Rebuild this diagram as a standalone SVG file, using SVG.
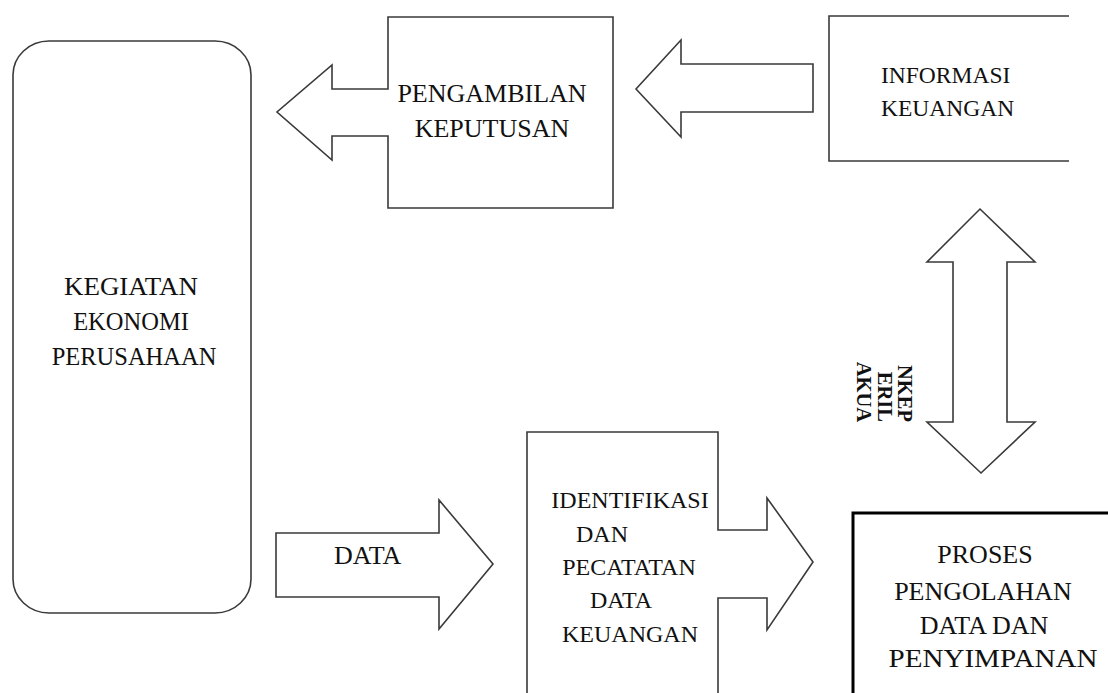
<svg xmlns="http://www.w3.org/2000/svg" width="1108" height="693" viewBox="0 0 1108 693">
<style>
.ln{fill:#fff;stroke:#3a3a3a;stroke-width:1.6;stroke-linejoin:miter}
.open{fill:none;stroke:#3a3a3a;stroke-width:1.6}
.thick{fill:none;stroke:#000;stroke-width:3}
text{font-family:"Liberation Serif","Times New Roman",serif;fill:#111}
.c{text-anchor:middle}
.rot{font-weight:bold;font-size:20.5px;text-anchor:end}
</style>
<rect width="1108" height="693" fill="#fff"/>
<g id="connectors">
<polygon id="arrow-info-to-keputusan" class="ln" points="813,64 681,64 681,40 636,89 681,137 681,112 813,112"/>
<polygon id="arrow-data" class="ln" points="276,533 439,533 439,500 493,564 439,629 439,597 276,597"/>
<polygon id="arrow-double" class="ln" points="980,209 1035,262 1007,262 1007,422 1035,422 981,473 927,422 953,422 953,262 927,262"/>
</g>
<g id="node-kegiatan">
<rect class="ln" x="13" y="41" width="238" height="572" rx="36" ry="34"/>
<text class="c" x="131" y="295" font-size="24.5" textLength="134" lengthAdjust="spacingAndGlyphs">KEGIATAN</text>
<text class="c" x="131" y="330" font-size="24.5">EKONOMI</text>
<text class="c" x="134" y="365" font-size="24.5">PERUSAHAAN</text>
</g>
<g id="node-pengambilan">
<path class="ln" d="M388,17 H613 V208 H388 V136 H332 V160 L277,112 L332,65 V89 H388 Z"/>
<text class="c" x="492" y="102" font-size="26">PENGAMBILAN</text>
<text class="c" x="492" y="137" font-size="26">KEPUTUSAN</text>
</g>
<g id="node-informasi">
<path class="open" d="M1069,16 H829 V161 H1069"/>
<text x="881" y="83" font-size="23.5">INFORMASI</text>
<text x="881" y="116" font-size="23.5">KEUANGAN</text>
</g>
<g id="node-identifikasi">
<path class="ln" d="M527,700 V432 H718 V530 H767 V498 L813,562 L767,630 V598 H718 V700"/>
<text class="c" x="630" y="508" font-size="24">IDENTIFIKASI</text>
<text class="c" x="602" y="542" font-size="24">DAN</text>
<text class="c" x="629" y="575" font-size="24">PECATATAN</text>
<text class="c" x="621" y="608" font-size="24">DATA</text>
<text class="c" x="630" y="642" font-size="24">KEUANGAN</text>
</g>
<g id="node-data-label">
<text x="334" y="564" font-size="26">DATA</text>
</g>
<g id="node-proses">
<path class="thick" d="M853,700 V513 H1110"/>
<text class="c" x="985" y="563" font-size="26">PROSES</text>
<text class="c" x="983" y="600" font-size="26">PENGOLAHAN</text>
<text class="c" x="984" y="634" font-size="26">DATA DAN</text>
<text class="c" x="993" y="667" font-size="26" textLength="209" lengthAdjust="spacingAndGlyphs">PENYIMPANAN</text>
</g>
<g id="node-rotated-label" transform="translate(898,422) rotate(90)">
<text class="rot" x="0" y="0">NKEP</text>
<text class="rot" x="0" y="20.5">ERIL</text>
<text class="rot" x="0" y="41">AKUA</text>
</g>
</svg>
